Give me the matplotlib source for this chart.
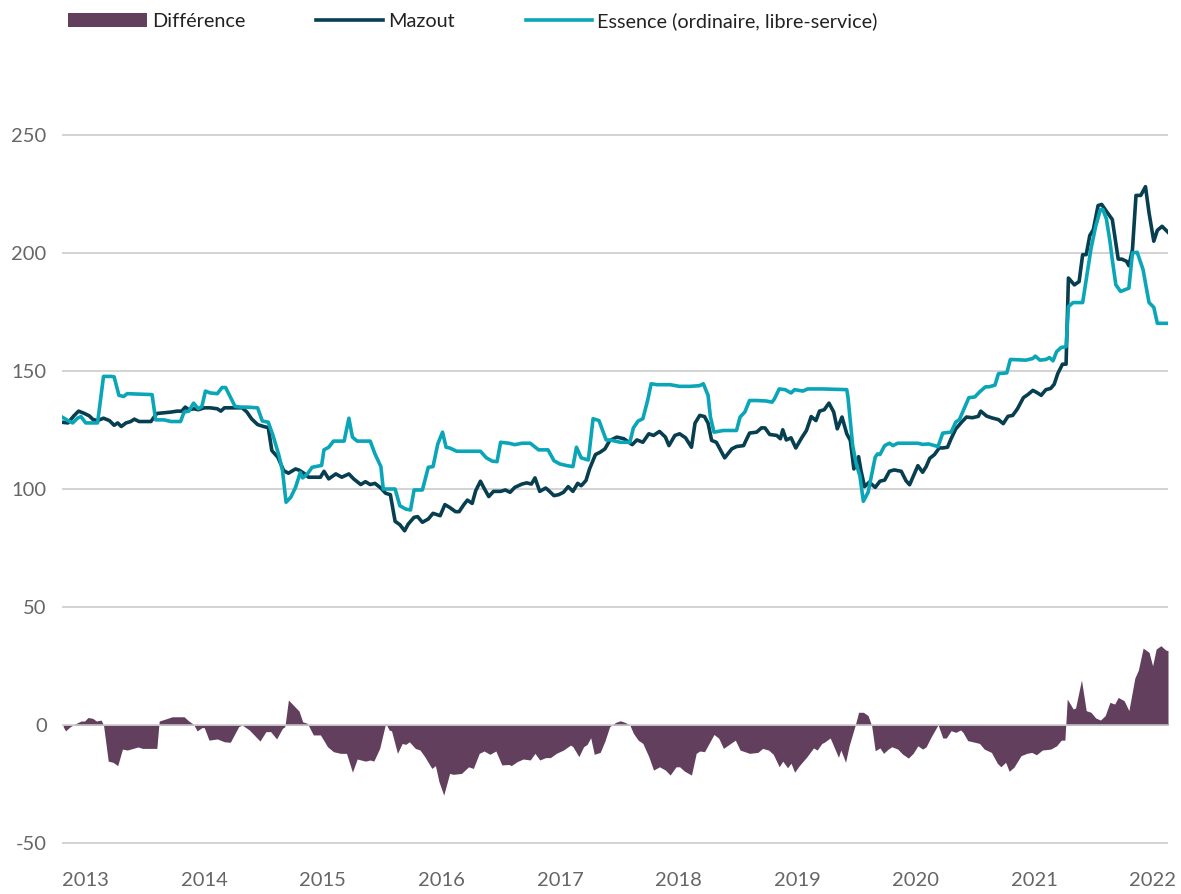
import numpy as np
import matplotlib
matplotlib.use('Agg')
import matplotlib.pyplot as plt
from matplotlib.lines import Line2D
from matplotlib.patches import Patch, Rectangle
from matplotlib.legend_handler import HandlerPatch

# Data (x in decimal years)
mazout_x = [2012.80, 2012.85, 2012.90, 2012.94, 2012.99, 2013.03, 2013.06, 2013.10, 2013.15, 2013.20,
            2013.24, 2013.27, 2013.30, 2013.34, 2013.38, 2013.41, 2013.45, 2013.49, 2013.55, 2013.58,
            2013.60, 2013.66, 2013.72, 2013.77, 2013.81, 2013.84, 2013.87, 2013.91, 2013.95, 2014.00,
            2014.05, 2014.11, 2014.14, 2014.17, 2014.22, 2014.28, 2014.32, 2014.36, 2014.40, 2014.45,
            2014.50, 2014.54, 2014.57, 2014.62, 2014.67, 2014.71, 2014.77, 2014.80, 2014.84, 2014.88,
            2014.94, 2014.98, 2015.01, 2015.05, 2015.11, 2015.16, 2015.22, 2015.26, 2015.32, 2015.36,
            2015.40, 2015.44, 2015.49, 2015.53, 2015.57, 2015.61, 2015.65, 2015.69, 2015.72, 2015.77,
            2015.80, 2015.84, 2015.89, 2015.93, 2015.99, 2016.03, 2016.07, 2016.12, 2016.15, 2016.19,
            2016.22, 2016.26, 2016.29, 2016.33, 2016.36, 2016.40, 2016.44, 2016.50, 2016.54, 2016.58,
            2016.62, 2016.68, 2016.72, 2016.76, 2016.79, 2016.83, 2016.88, 2016.90, 2016.95, 2016.99,
            2017.03, 2017.07, 2017.11, 2017.15, 2017.18, 2017.22, 2017.25, 2017.30, 2017.34, 2017.38,
            2017.42, 2017.48, 2017.54, 2017.61, 2017.65, 2017.70, 2017.75, 2017.79, 2017.84, 2017.89,
            2017.92, 2017.97, 2018.01, 2018.06, 2018.11, 2018.14, 2018.18, 2018.22, 2018.25, 2018.28,
            2018.32, 2018.39, 2018.45, 2018.49, 2018.55, 2018.57, 2018.60, 2018.66, 2018.70, 2018.73,
            2018.77, 2018.83, 2018.86, 2018.88, 2018.91, 2018.95, 2018.99, 2019.04, 2019.08, 2019.12,
            2019.16, 2019.19, 2019.23, 2019.27, 2019.31, 2019.34, 2019.38, 2019.42, 2019.45, 2019.48,
            2019.52, 2019.54, 2019.57, 2019.61, 2019.66, 2019.70, 2019.74, 2019.78, 2019.82, 2019.88,
            2019.92, 2019.95, 2019.99, 2020.02, 2020.06, 2020.09, 2020.12, 2020.16, 2020.20, 2020.23,
            2020.27, 2020.30, 2020.34, 2020.39, 2020.43, 2020.48, 2020.53, 2020.55, 2020.60, 2020.64,
            2020.70, 2020.74, 2020.78, 2020.82, 2020.86, 2020.91, 2020.95, 2020.99, 2021.03, 2021.06,
            2021.10, 2021.14, 2021.17, 2021.20, 2021.24, 2021.27, 2021.29, 2021.34, 2021.38, 2021.41,
            2021.44, 2021.47, 2021.50, 2021.54, 2021.57, 2021.61, 2021.66, 2021.69, 2021.71, 2021.74,
            2021.78, 2021.80, 2021.83, 2021.86, 2021.90, 2021.94, 2021.97, 2022.01, 2022.04, 2022.08,
            2022.13]
mazout = [128.3, 128, 131, 133, 132, 131, 129.5, 129, 130, 129,
          127, 128, 126.5, 128, 128.6, 129.6, 128.6, 128.6, 128.6, 130.7,
          132, 132.3, 132.6, 133, 133, 134.7, 133.6, 134, 133.6, 134.4,
          134.4, 134, 133, 134.4, 134.4, 134.4, 134.4, 132.6, 129.7, 127.3,
          126.5, 126, 116.3, 113.5, 107.8, 106.7, 108.5, 108, 106.7, 105,
          105, 105, 107.5, 104.3, 106.4, 105, 106.4, 104.3, 101.9, 103.1,
          101.9, 102.4, 100.4, 98.2, 97.6, 86.3, 84.9, 82.3, 85.1, 88,
          88.3, 85.9, 87.3, 89.7, 88.7, 93.4, 92.2, 90.4, 90.4, 93.4,
          95.3, 93.9, 99.3, 103.3, 100.4, 96.8, 99, 99, 99.6, 98.6,
          100.7, 102.1, 102.6, 102.1, 104.7, 99, 100.4, 99.6, 97.2, 97.6,
          98.6, 101, 99, 102.4, 101.4, 103.6, 108.5, 114.6, 115.6, 117,
          120.5, 122, 121.3, 118.8, 120.8, 119.8, 123.4, 122.7, 124.4, 122,
          118.4, 122.7, 123.4, 121.7, 117.7, 127.9, 131.2, 130.7, 127.9, 120.6,
          119.8, 113.2, 117, 118, 118.4, 120.6, 123.7, 124.1, 125.9, 125.9,
          123.1, 122.7, 121.3, 125.1, 120.8, 121.7, 117.4, 121.7, 124.8, 130.7,
          129, 133, 133.6, 136.4, 132.6, 125.5, 130.5, 123.4, 120.6, 108.5,
          113.7, 107.8, 101, 102.9, 100.7, 103.3, 103.8, 107.5, 108.1, 107.5,
          103.5, 101.8, 106.4, 109.9, 107.1, 109.5, 113, 114.6, 117.4, 117.4,
          117.7, 121.3, 125.5, 128.4, 130.5, 130.2, 130.8, 133, 130.9, 130.2,
          129.4, 127.7, 130.8, 131.2, 134, 138.7, 140.1, 141.8, 140.7, 139.7,
          142.1, 142.6, 144.4, 148.9, 152.9, 152.9, 189.4, 186.5, 187.9, 199.3,
          199.3, 207.4, 209.9, 220.1, 220.6, 217.7, 214.2, 204.3, 197.4, 197.4,
          196.5, 194.6, 201.4, 224.4, 224.4, 228.1, 217, 205, 209.6, 211.3,
          208.8]

essence_x = [2012.80, 2012.85, 2012.89, 2012.93, 2012.96, 2013.00, 2013.10, 2013.12, 2013.15, 2013.22,
             2013.24, 2013.28, 2013.32, 2013.35, 2013.56, 2013.59, 2013.66, 2013.72, 2013.80, 2013.83,
             2013.87, 2013.91, 2013.95, 2013.98, 2014.01, 2014.05, 2014.11, 2014.15, 2014.18, 2014.22,
             2014.26, 2014.31, 2014.36, 2014.45, 2014.49, 2014.54, 2014.58, 2014.63, 2014.66, 2014.69,
             2014.73, 2014.77, 2014.81, 2014.83, 2014.87, 2014.91, 2014.99, 2015.01, 2015.05, 2015.09,
             2015.18, 2015.22, 2015.25, 2015.29, 2015.40, 2015.44, 2015.49, 2015.51, 2015.61, 2015.65,
             2015.70, 2015.74, 2015.77, 2015.84, 2015.89, 2015.93, 2015.97, 2016.01, 2016.04, 2016.07,
             2016.13, 2016.33, 2016.38, 2016.43, 2016.47, 2016.50, 2016.57, 2016.62, 2016.68, 2016.75,
             2016.82, 2016.90, 2016.95, 2017.00, 2017.06, 2017.11, 2017.14, 2017.18, 2017.24, 2017.28,
             2017.33, 2017.39, 2017.42, 2017.51, 2017.59, 2017.62, 2017.66, 2017.70, 2017.74, 2017.77,
             2017.82, 2017.93, 2018.01, 2018.10, 2018.18, 2018.21, 2018.25, 2018.27, 2018.30, 2018.38,
             2018.49, 2018.52, 2018.56, 2018.60, 2018.66, 2018.74, 2018.79, 2018.81, 2018.85, 2018.90,
             2018.95, 2018.98, 2019.05, 2019.09, 2019.22, 2019.42, 2019.43, 2019.47, 2019.50, 2019.53,
             2019.56, 2019.60, 2019.66, 2019.68, 2019.70, 2019.74, 2019.78, 2019.81, 2019.85, 2020.02,
             2020.06, 2020.11, 2020.19, 2020.23, 2020.30, 2020.34, 2020.37, 2020.41, 2020.45, 2020.50,
             2020.54, 2020.59, 2020.62, 2020.67, 2020.70, 2020.77, 2020.80, 2020.93, 2020.99, 2021.01,
             2021.05, 2021.10, 2021.13, 2021.16, 2021.19, 2021.23, 2021.27, 2021.29, 2021.33, 2021.41,
             2021.44, 2021.48, 2021.52, 2021.56, 2021.58, 2021.61, 2021.64, 2021.66, 2021.69, 2021.73,
             2021.80, 2021.83, 2021.87, 2021.92, 2021.94, 2021.97, 2022.01, 2022.04, 2022.13]
essence = [130.5, 129, 128, 130, 130.7, 128, 128, 136, 147.7, 147.7,
           147.5, 139.7, 139.2, 140.4, 140, 129.3, 129.3, 128.6, 128.6, 132.6,
           133, 136.4, 134, 135, 141.5, 140.7, 140.4, 143, 143, 139,
           135, 134.7, 134.7, 134.4, 128.8, 128.3, 122.7, 114.2, 107.8, 94.4,
           96.5, 100.7, 107, 104.7, 106.4, 109.2, 110, 116.6, 117.7, 120.3,
           120.3, 130, 122, 120.3, 120.3, 114.9, 109.5, 100, 100, 92.9,
           91.5, 91.1, 99.6, 99.6, 109.2, 109.5, 119.1, 124.1, 117.7, 117.4,
           116, 116, 113.2, 111.8, 111.6, 119.8, 119.4, 118.8, 119.4, 119.4,
           116.6, 116.6, 112, 110.6, 109.9, 109.5, 117.7, 113.2, 112.3, 129.8,
           129, 120.8, 120.8, 119.8, 119.8, 125.9, 128.8, 129.8, 137.5, 144.6,
           144.2, 144.2, 143.5, 143.5, 143.8, 144.6, 139.7, 130.5, 124.1, 124.8,
           124.8, 130.5, 132.6, 137.5, 137.5, 137.3, 136.8, 138.2, 142.4, 142.1,
           140.7, 142.1, 141.5, 142.4, 142.4, 142.1, 139, 118.4, 110.6, 105.7,
           94.8, 98.6, 113.5, 114.9, 114.6, 118.4, 119.4, 118.4, 119.4, 119.4,
           118.9, 119.1, 118, 123.7, 124.1, 128.4, 129.4, 134, 138.7, 139,
           141.1, 143.3, 143.3, 144, 148.9, 149.2, 154.9, 154.6, 155.3, 156.3,
           154.6, 154.9, 155.7, 154.3, 158.2, 160, 160.3, 177.3, 179, 179,
           188.7, 201.7, 211.3, 218.4, 218.4, 214.5, 205, 197.2, 186.5, 183.7,
           185.1, 200, 200.3, 192.9, 187.2, 179, 177, 170.2, 170.2]

diff_x = [2012.81, 2012.83, 2012.87, 2012.92, 2012.96, 2012.99, 2013.02, 2013.06, 2013.09, 2013.13,
          2013.15, 2013.19, 2013.23, 2013.27, 2013.31, 2013.35, 2013.40, 2013.44, 2013.48, 2013.55,
          2013.60, 2013.62, 2013.67, 2013.73, 2013.83, 2013.87, 2013.91, 2013.94, 2013.98, 2014.00,
          2014.04, 2014.11, 2014.17, 2014.22, 2014.29, 2014.32, 2014.38, 2014.47, 2014.52, 2014.56,
          2014.61, 2014.66, 2014.68, 2014.71, 2014.80, 2014.83, 2014.87, 2014.92, 2014.98, 2015.04,
          2015.09, 2015.15, 2015.20, 2015.25, 2015.29, 2015.36, 2015.40, 2015.43, 2015.48, 2015.53,
          2015.56, 2015.58, 2015.63, 2015.67, 2015.70, 2015.73, 2015.78, 2015.82, 2015.86, 2015.92,
          2015.95, 2015.98, 2016.02, 2016.07, 2016.10, 2016.17, 2016.23, 2016.27, 2016.32, 2016.36,
          2016.41, 2016.46, 2016.51, 2016.57, 2016.59, 2016.64, 2016.69, 2016.75, 2016.79, 2016.83,
          2016.88, 2016.92, 2016.97, 2017.03, 2017.09, 2017.11, 2017.16, 2017.20, 2017.23, 2017.26,
          2017.29, 2017.34, 2017.38, 2017.42, 2017.47, 2017.51, 2017.55, 2017.59, 2017.62, 2017.66,
          2017.70, 2017.75, 2017.79, 2017.84, 2017.89, 2017.93, 2017.98, 2018.01, 2018.05, 2018.11,
          2018.15, 2018.18, 2018.22, 2018.30, 2018.34, 2018.38, 2018.48, 2018.52, 2018.60, 2018.67,
          2018.71, 2018.76, 2018.80, 2018.85, 2018.88, 2018.92, 2018.95, 2018.98, 2019.02, 2019.08,
          2019.14, 2019.17, 2019.21, 2019.23, 2019.28, 2019.30, 2019.35, 2019.37, 2019.41, 2019.44,
          2019.49, 2019.52, 2019.56, 2019.60, 2019.63, 2019.66, 2019.70, 2019.73, 2019.77, 2019.80,
          2019.85, 2019.89, 2019.94, 2019.98, 2020.02, 2020.06, 2020.09, 2020.13, 2020.19, 2020.23,
          2020.26, 2020.30, 2020.34, 2020.38, 2020.40, 2020.44, 2020.50, 2020.54, 2020.58, 2020.64,
          2020.69, 2020.72, 2020.76, 2020.79, 2020.83, 2020.89, 2020.94, 2020.98, 2021.02, 2021.07,
          2021.14, 2021.19, 2021.23, 2021.26, 2021.28, 2021.33, 2021.35, 2021.40, 2021.44, 2021.48,
          2021.52, 2021.56, 2021.60, 2021.64, 2021.68, 2021.71, 2021.76, 2021.80, 2021.85, 2021.88,
          2021.92, 2021.97, 2022.00, 2022.03, 2022.07, 2022.11, 2022.13]
diff = [-0.7, -2.5, -0.7, 0.7, 1.7, 1.7, 3.2, 2.8, 1.7, 2.1,
        0, -15.3, -15.8, -17.2, -10.2, -10.6, -9.9, -9.3, -9.9, -9.9,
        -9.9, 1.7, 2.5, 3.5, 3.5, 1.7, 0.3, -2.5, -1.1, -1.1,
        -6.4, -5.9, -7.1, -7.3, -0.7, 0, -2.1, -6.8, -2.8, -2.8,
        -5.9, -1.4, -0.7, 10.6, 5.9, 1.4, 0.7, -4.2, -4.2, -9.2,
        -11.3, -12, -12, -20, -14.4, -15.3, -14.8, -15.3, -9.9, 0.7,
        -2.1, -2.5, -12, -7.8, -8.2, -7.1, -9.9, -10.6, -13.4, -18.4,
        -17.2, -24, -29.7, -20.5, -20.9, -20.5, -17.7, -18.4, -12, -11,
        -12.4, -11, -16.9, -16.7, -17.2, -15.5, -14.4, -14.8, -12, -14.8,
        -13.8, -13.8, -12, -10.6, -8.5, -9.2, -13.4, -9.2, -8.2, -5.4,
        -12.4, -11.6, -6.8, -0.7, 1.1, 1.8, 1.1, 0, -3.5, -6.4,
        -7.8, -13.4, -19.1, -17.7, -19.1, -21.2, -17.7, -17.7, -19.5, -21.2,
        -12, -11, -11.3, -4, -5.6, -9.9, -6.4, -10.6, -12, -11.6,
        -9.9, -10.6, -12.4, -17.7, -15.3, -18.1, -16.2, -20, -17.2, -13.7,
        -9.7, -10.6, -7.8, -7.3, -5.5, -7.8, -13.7, -10.6, -15.8, -8.8,
        -0.3, 5.4, 5.4, 4, -0.3, -10.9, -9.7, -12, -10.2, -9.2,
        -10.2, -12.3, -14, -12, -8.8, -10.2, -9.2, -5.2, 0.1, -5.5,
        -5.5, -2.4, -3.1, -2.1, -3.1, -6.6, -7.3, -7.8, -10.2, -11.6,
        -16.2, -17.7, -15.8, -19.6, -17.9, -13, -12, -11.6, -12.6, -10.6,
        -10.2, -8.8, -6.4, -6.4, 11, 6.8, 7.2, 19.1, 6.1, 5.4,
        3, 2.1, 4, 9.6, 8.9, 11.7, 10.3, 6.1, 19.9, 23.3,
        32.6, 30.8, 25.1, 32.2, 33.6, 31.8, 31.5]

years = list(range(2013, 2023))
y_ticks = [-50, 0, 50, 100, 150, 200, 250]

c_mazout = '#073F50'
c_essence = '#0AA6B8'
c_diff = '#633F5E'
c_grid = '#C8C8C8'

plt.rcParams['font.family'] = ['Lato', 'DejaVu Sans']
plt.rcParams['axes.unicode_minus'] = False

fig = plt.figure(figsize=(11.81, 8.94), dpi=100)
ax = fig.add_axes([0.0525, 0.0438, 0.9365, 0.8712])

ax.fill_between(diff_x, diff, 0, color=c_diff, linewidth=0, zorder=1)
for v in y_ticks:
    ax.axhline(v, color=c_grid, linewidth=1.1, zorder=1.5)
ax.plot(mazout_x, mazout, color=c_mazout, linewidth=2.6, zorder=3, solid_joinstyle='round')
ax.plot(essence_x, essence, color=c_essence, linewidth=2.6, zorder=4, solid_joinstyle='round')

ax.set_xlim(2012.80, 2022.13)
ax.set_ylim(-55, 275)
ax.set_xticks(years)
ax.set_xticklabels([str(y) for y in years])
ax.set_yticks(y_ticks)
ax.tick_params(axis='x', length=0, pad=12, labelsize=14.5, labelcolor='#666666')
ax.tick_params(axis='y', length=0, pad=11, labelsize=14.5, labelcolor='#666666')
for s in ax.spines.values():
    s.set_visible(False)


# the filled legend key is a bit wider than the line keys
def wide_patch(legend, orig_handle, xdescent, ydescent, width, height, fontsize):
    extra = 0.18 * width
    return Rectangle((-xdescent - extra, -ydescent), width + extra, height)


handles = [Patch(facecolor=c_diff, edgecolor='none'),
           Line2D([], [], color=c_mazout, linewidth=2.6),
           Line2D([], [], color=c_essence, linewidth=2.6)]
labels = ['Différence', 'Mazout', 'Essence (ordinaire, libre-service)']
fig.legend(handles, labels, loc='center left', bbox_to_anchor=(0.0677, 0.9765), ncol=3,
           frameon=False, fontsize=14.3, handlelength=3.37, handletextpad=0.25,
           columnspacing=3.57, borderpad=0, borderaxespad=0, labelcolor='#222222',
           handler_map={Patch: HandlerPatch(patch_func=wide_patch)})

fig.savefig('out.png', dpi=100)
